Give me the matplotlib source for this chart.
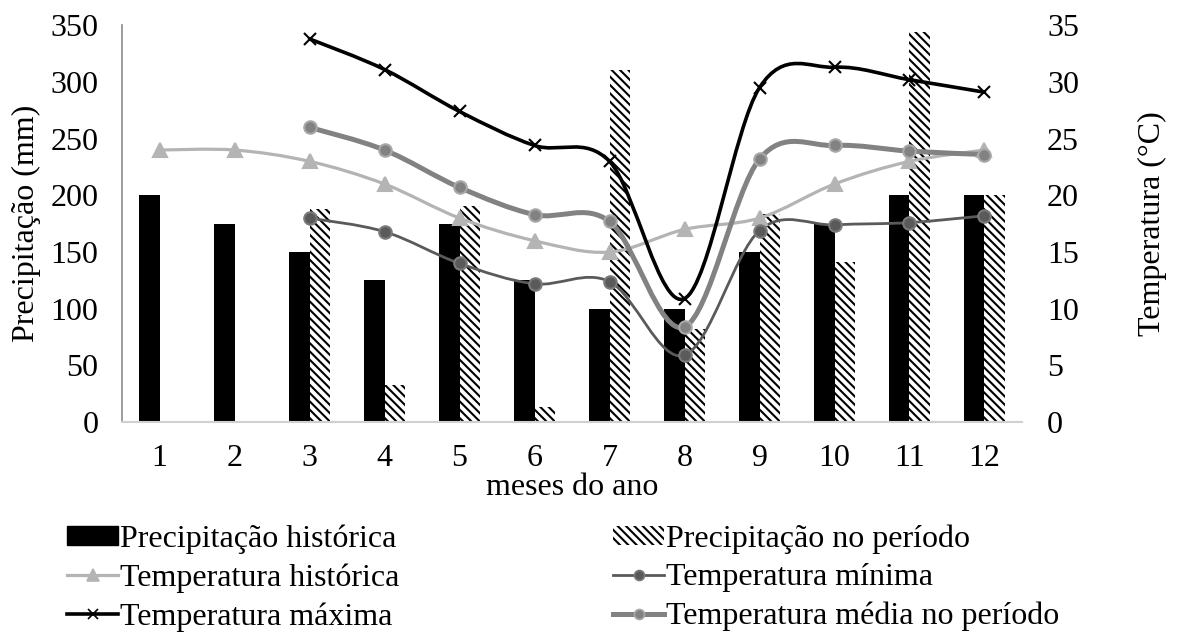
"""
Precipitation and temperature by month (bars + smoothed lines, two y axes).
"""
import numpy as np
import matplotlib
matplotlib.use('Agg')
import matplotlib.pyplot as plt
from matplotlib.path import Path
from matplotlib.patches import PathPatch, Patch
from matplotlib.lines import Line2D

plt.rcParams['font.family'] = ['Liberation Serif', 'DejaVu Serif']
plt.rcParams['hatch.linewidth'] = 1.5

# data
meses = np.arange(1, 13)
precip_historica = [200, 175, 150, 125, 175, 125, 100, 100, 150, 175, 200, 200]
precip_periodo = [np.nan, np.nan, 188, 33, 191, 13, 311, 82, 184, 141, 344, 200]
temp_historica = [24, 24, 23, 21, 18, 16, 15, 17, 18, 21, 23, 24]
temp_minima = [np.nan, np.nan, 18.0, 16.8, 14.0, 12.2, 12.4, 5.9, 16.9, 17.4, 17.6, 18.2]
temp_maxima = [np.nan, np.nan, 33.8, 31.1, 27.4, 24.4, 23.0, 10.9, 29.5, 31.3, 30.2, 29.1]
temp_media = [np.nan, np.nan, 26.0, 24.0, 20.7, 18.3, 17.7, 8.4, 23.2, 24.4, 23.9, 23.6]

FS = 23
HATCH = '\\' * 4


def smooth_path(x, y, t=1 / 6):
    """Catmull-Rom style bezier path through the valid points (like Excel's smoothed line)."""
    x = np.asarray(x, float)
    y = np.asarray(y, float)
    ok = ~np.isnan(y)
    x, y = x[ok], y[ok]
    n = len(x)
    verts = [(x[0], y[0])]
    codes = [Path.MOVETO]
    for i in range(n - 1):
        p0 = max(i - 1, 0)
        p3 = min(i + 2, n - 1)
        c1 = (x[i] + (x[i + 1] - x[p0]) * t, y[i] + (y[i + 1] - y[p0]) * t)
        c2 = (x[i + 1] - (x[p3] - x[i]) * t, y[i + 1] - (y[p3] - y[i]) * t)
        verts += [c1, c2, (x[i + 1], y[i + 1])]
        codes += [Path.CURVE4] * 3
    return Path(verts, codes)


fig = plt.figure(figsize=(11.8, 6.32), dpi=100)
ax = fig.add_axes([0.1034, 0.332, 0.7627, 0.628])
ax2 = ax.twinx()

w = 0.27
ax.bar(meses - w / 2, precip_historica, width=w, color='black', zorder=2)
ax.bar(meses + w / 2, np.nan_to_num(precip_periodo), width=w, facecolor='white',
       edgecolor='black', linewidth=0, hatch=HATCH, zorder=2)

ax.set_xlim(0.5, 12.5)
ax.set_ylim(0, 350)
ax.set_yticks(np.arange(0, 351, 50))
ax.set_xticks(meses)
ax.tick_params(axis='y', length=0, labelsize=FS, pad=17)
ax.tick_params(axis='x', length=0, labelsize=FS, pad=16)
ax.set_ylabel('Precipitação (mm)', fontsize=FS)
ax.yaxis.set_label_coords(-0.09, 0.5)
ax.set_xlabel('meses do ano', fontsize=FS)
ax.xaxis.set_label_coords(0.5, -0.128)

ax2.set_ylim(0, 35)
ax2.set_yticks(np.arange(0, 36, 5))
ax2.tick_params(axis='y', length=0, labelsize=FS, pad=18)
ax2.set_ylabel('Temperatura (°C)', fontsize=FS)
ax2.yaxis.set_label_coords(1.129, 0.5)

for a in (ax, ax2):
    for s in ('top', 'right'):
        a.spines[s].set_visible(False)
ax2.spines['left'].set_visible(False)
ax2.spines['bottom'].set_visible(False)
ax.spines['left'].set_color('#8c8c8c')
ax.spines['left'].set_linewidth(1.2)
ax.spines['bottom'].set_color('#d0d0d0')
ax.spines['bottom'].set_linewidth(1.5)

# lines: (values, color, linewidth, marker, markersize, marker face, marker edge, label)
series = [
    (temp_historica, '#b4b4b4', 2.3, '^', 10, '#b4b4b4', '#b4b4b4', 'Temperatura histórica'),
    (temp_minima, '#5a5a5a', 2.0, 'o', 9, '#5a5a5a', '#7a7a7a', 'Temperatura mínima'),
    (temp_maxima, 'black', 2.6, 'x', 9, 'black', 'black', 'Temperatura máxima'),
    (temp_media, '#828282', 3.6, 'o', 9, '#828282', '#a8a8a8', 'Temperatura média no período'),
]
handles = {}
for vals, col, lw, mk, ms, mfc, mec, lab in series:
    ax2.add_patch(PathPatch(smooth_path(meses, vals), facecolor='none', edgecolor=col,
                            linewidth=lw, capstyle='round', zorder=3))
    ax2.plot(meses, vals, linestyle='none', marker=mk, markersize=ms,
             markerfacecolor=mfc, markeredgecolor=mec, markeredgewidth=1.5, zorder=4)
    handles[lab] = Line2D([], [], color=col, linewidth=lw, marker=mk, markersize=ms * 0.8,
                          markerfacecolor=mfc, markeredgecolor=mec, markeredgewidth=1.2)

h_hist = Patch(facecolor='black', edgecolor='black')
h_per = Patch(facecolor='white', edgecolor='black', linewidth=0, hatch=HATCH)

leg_handles = [h_hist, handles['Temperatura histórica'], handles['Temperatura máxima'],
               h_per, handles['Temperatura mínima'], handles['Temperatura média no período']]
leg_labels = ['Precipitação histórica', 'Temperatura histórica', 'Temperatura máxima',
              'Precipitação no período', 'Temperatura mínima', 'Temperatura média no período']
fig.legend(leg_handles, leg_labels, ncol=2, loc='upper left', bbox_to_anchor=(0.057, 0.17),
           bbox_transform=fig.transFigure, frameon=False, fontsize=FS, handlelength=1.6,
           handleheight=0.55, handletextpad=0.05, labelspacing=0.29, columnspacing=6.7,
           borderaxespad=0, borderpad=0)

fig.savefig('out.png', dpi=100)
